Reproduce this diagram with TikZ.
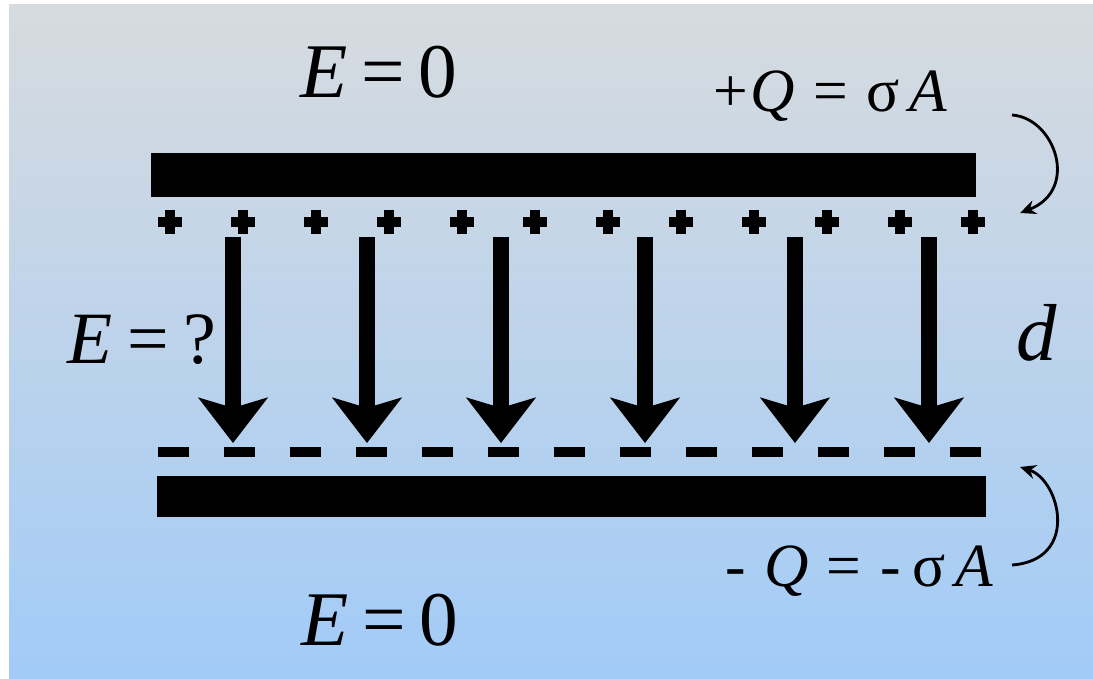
\documentclass[tikz,border=0pt]{standalone}
\usepackage{fontspec}
\setmainfont{Liberation Serif}
\usetikzlibrary{
    arrows.meta
}
\definecolor{bgtop}{RGB}{215,219,223}
\definecolor{bgbottom}{RGB}{162,203,247}
\tikzset{
    % --- Capacitor plate (solid bar) ---
    plate/.style = {
        fill=black
    },
    % --- Surface charge sign ---
    charge sign/.style = {
        line width=0.2cm
    },
    % --- Field arrow between the plates ---
    field arrow/.style = {
        line width=9pt,
        -{Stealth[length=26pt, width=40pt, inset=6pt, line width=0pt]}
    },
    % --- Dashed Gaussian surface ---
    gauss surface/.style = {
        line width=0.2cm, dash pattern=on 0.62cm off 0.7cm
    },
    % --- Bent arrow pointing at the charge ---
    charge pointer/.style = {
        line width=1.6pt, -{Stealth[length=9pt, width=8pt]}
    },
    % --- Formula labels ---
    big label/.style = {
        font=\fontsize{44}{50}\selectfont, anchor=base, inner sep=0pt
    },
    mid label/.style = {
        font=\fontsize{35}{40}\selectfont, anchor=base, inner sep=0pt
    }
}

\begin{document}
\begin{tikzpicture}[x=0.02cm, y=-0.02cm]

% ---------------------------------------------------------
% Background
% ---------------------------------------------------------
\useasboundingbox (0,0) rectangle (1093,679);
\fill[white] (0,0) rectangle (1093,679);
\shade[top color=bgtop, bottom color=bgbottom] (9,5) rectangle (1093,679);

% ---------------------------------------------------------
% Plates
% ---------------------------------------------------------
\fill[plate] (151,153) rectangle (976,197);
\fill[plate] (157,476) rectangle (986,517);

% ---------------------------------------------------------
% Positive charges under the top plate
% ---------------------------------------------------------
\foreach \x in {170,243,316,389,462,535,608,681,754,827,900,973} {
    \draw[charge sign] (\x-12,222) -- (\x+12,222);
    \draw[charge sign] (\x,210) -- (\x,234);
}

% ---------------------------------------------------------
% Field arrows
% ---------------------------------------------------------
\foreach \x in {233,367,501,645,795,929} {
    \coordinate (FieldTop\x) at (\x,237);
    \coordinate (FieldTip\x) at (\x,443);
    \draw[field arrow] (FieldTop\x) -- (FieldTip\x);
}

% Gaussian surface
\coordinate (GaussL) at (158,452);
\coordinate (GaussR) at (984,452);
\draw[gauss surface] (GaussL) -- (GaussR);

% ---------------------------------------------------------
% Labels
% ---------------------------------------------------------
\node[big label] (OutTop) at (379,98)
    {\textit{E}\hspace{.18em}=\hspace{.18em}0};
\node[big label] (OutBot) at (380,645)
    {\textit{E}\hspace{.18em}=\hspace{.18em}0};
\node[big label, font=\fontsize{42}{48}\selectfont] (Inside) at (142,363)
    {\textit{E}\hspace{.2em}=\hspace{.2em}?};
\node[big label, font=\fontsize{46}{50}\selectfont] (Gap) at (1037,360) {\textit{d}};
\node[mid label] (ChargeTop) at (830,112)
    {+\hspace{.05em}\textit{Q}\hspace{.3em}=\hspace{.3em}σ\hspace{.15em}\textit{A}};
\node[mid label] (ChargeBot) at (859,586)
    {-\hspace{.3em}\textit{Q}\hspace{.3em}=\hspace{.3em}-\hspace{.2em}σ\hspace{.15em}\textit{A}};

% Pointers to the plates
\coordinate (TopFrom) at (1012,115);
\coordinate (TopTo)   at (1020,213);
\draw[charge pointer] (TopFrom) .. controls (1055,118) and (1080,190) .. (TopTo);
\coordinate (BotFrom) at (1012,565);
\coordinate (BotTo)   at (1020,467);
\draw[charge pointer] (BotFrom) .. controls (1080,560) and (1060,480) .. (BotTo);

\end{tikzpicture}
\end{document}
